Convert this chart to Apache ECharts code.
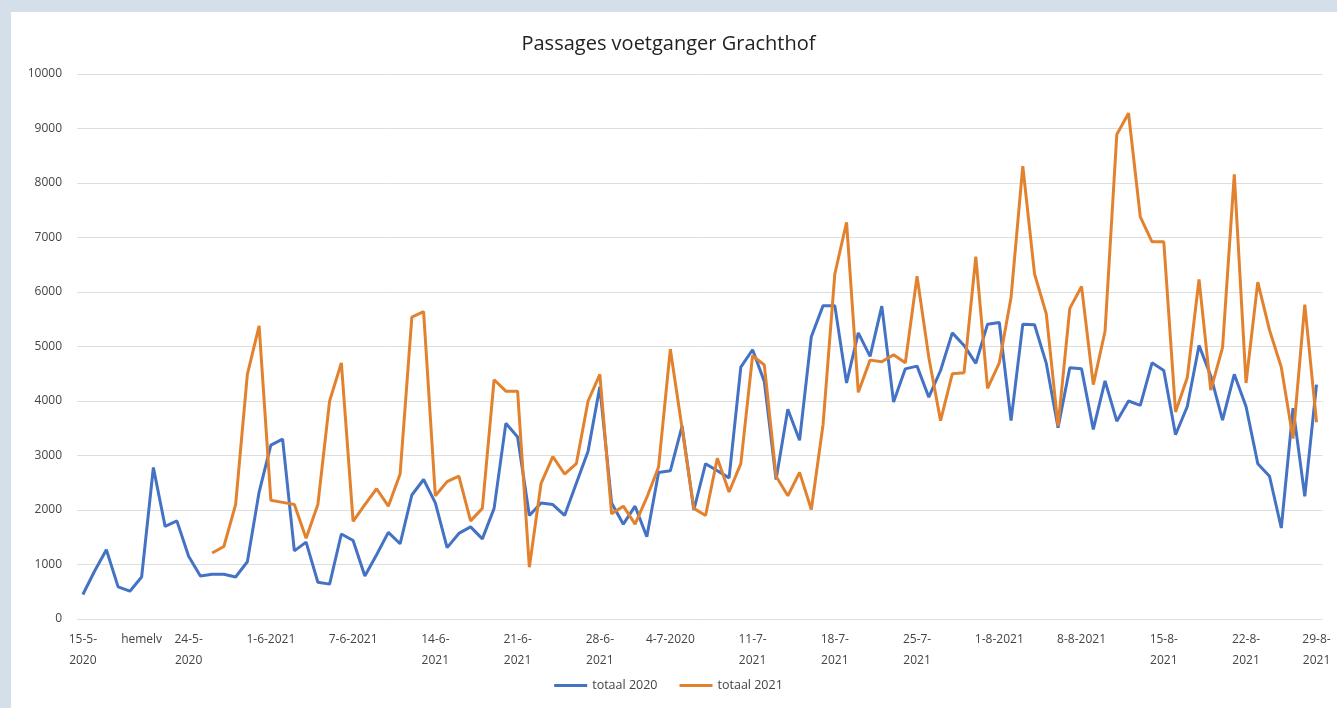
<!DOCTYPE html>
<html>
<head>
<meta charset="utf-8">
<script src="https://cdn.jsdelivr.net/npm/echarts@6/dist/echarts.min.js"></script>
<style>
  html, body { margin: 0; padding: 0; background: #d5dfe9; }
  #chart { width: 1337px; height: 708px; }
</style>
</head>
<body>
<div id="chart"></div>
<script>
// Tick labels: [category index, label text]
const tickLabels = [
  [0, '15-5-\n2020'], [5, 'hemelv'], [9, '24-5-\n2020'], [16, '1-6-2021'],
  [23, '7-6-2021'], [30, '14-6-\n2021'], [37, '21-6-\n2021'], [44, '28-6-\n2021'],
  [50, '4-7-2020'], [57, '11-7-\n2021'], [64, '18-7-\n2021'], [71, '25-7-\n2021'],
  [78, '1-8-2021'], [85, '8-8-2021'], [92, '15-8-\n2021'], [99, '22-8-\n2021'],
  [105, '29-8-\n2021']
];
const categoryCount = 106;

const totaal2020 = [
  450, 880, 1270, 590, 510, 770, 2780, 1700, 1800, 1150,
  790, 820, 820, 770, 1050, 2330, 3190, 3300, 1250, 1410,
  675, 640, 1560, 1440, 790, 1180, 1590, 1380, 2275, 2560,
  2130, 1310, 1570, 1690, 1470, 2030, 3590, 3340, 1900, 2130,
  2100, 1900, 2490, 3080, 4260, 2130, 1740, 2070, 1510, 2690,
  2720, 3540, 2000, 2850, 2720, 2590, 4620, 4940, 4360, 2560,
  3850, 3280, 5180, 5750, 5750, 4330, 5250, 4820, 5740, 3980,
  4590, 4640, 4070, 4560, 5250, 5020, 4690, 5410, 5440, 3640,
  5410, 5400, 4690, 3510, 4610, 4590, 3480, 4370, 3630, 4000,
  3920, 4700, 4560, 3380, 3900, 5020, 4460, 3650, 4490, 3900,
  2850, 2620, 1670, 3870, 2250, 4300
];

const totaal2021 = [
  null, null, null, null, null, null, null, null, null, null,
  null, 1210, 1330, 2100, 4490, 5380, 2180, 2140, 2100, 1480,
  2100, 4000, 4700, 1790, 2100, 2390, 2070, 2660, 5540, 5640,
  2260, 2520, 2620, 1800, 2030, 4390, 4180, 4180, 950, 2490,
  2980, 2660, 2850, 4000, 4490, 1930, 2070, 1740, 2230, 2790,
  4950, 3500, 2030, 1900, 2950, 2330, 2850, 4830, 4660, 2620,
  2260, 2690, 2010, 3570, 6330, 7280, 4160, 4750, 4720, 4850,
  4700, 6290, 4800, 3640, 4500, 4520, 6650, 4230, 4700, 5900,
  8310, 6330, 5600, 3540, 5700, 6100, 4300, 5280, 8890, 9280,
  7380, 6920, 6920, 3800, 4430, 6230, 4200, 4980, 8160, 4330,
  6180, 5300, 4620, 3310, 5770, 3610
];

const categories = new Array(categoryCount).fill('');
tickLabels.forEach(([i, t]) => { categories[i] = t; });

const font = '"Open Sans", sans-serif';
const chart = echarts.init(document.getElementById('chart'));
chart.setOption({
  backgroundColor: 'transparent',
  animation: false,
  graphic: [{
    type: 'rect', z: -10, silent: true,
    shape: { x: 11, y: 12, width: 1340, height: 710 },
    style: { fill: '#ffffff' }
  }],
  title: {
    text: 'Passages voetganger Grachthof',
    left: 'center', top: 29,
    textStyle: { fontFamily: font, fontSize: 20, fontWeight: 'normal', color: '#222' }
  },
  legend: {
    bottom: 11, left: 'center',
    icon: 'rect', itemWidth: 33, itemHeight: 3, itemGap: 22,
    textStyle: { fontFamily: font, fontSize: 12.5, color: '#444' },
    data: ['totaal 2020', 'totaal 2021']
  },
  grid: { left: 77, right: 14.6, top: 74, bottom: 89, containLabel: false },
  xAxis: {
    type: 'category',
    data: categories,
    boundaryGap: true,
    axisLine: { show: false },
    axisTick: { show: false },
    axisLabel: {
      interval: (idx, val) => val !== '',
      fontFamily: font, fontSize: 12, color: '#444', lineHeight: 21, margin: 10
    }
  },
  yAxis: {
    type: 'value', min: 0, max: 10000, interval: 1000,
    axisLine: { show: false },
    axisTick: { show: false },
    splitLine: { lineStyle: { color: '#dedede', width: 1 } },
    axisLabel: {
      fontFamily: font, fontSize: 12, color: '#444', margin: 15,
      formatter: (v) => String(v)
    }
  },
  series: [
    {
      name: 'totaal 2020', type: 'line', data: totaal2020,
      symbol: 'none', lineStyle: { width: 3, color: '#4472C4' }, itemStyle: { color: '#4472C4' }
    },
    {
      name: 'totaal 2021', type: 'line', data: totaal2021,
      symbol: 'none', lineStyle: { width: 3, color: '#E2822F' }, itemStyle: { color: '#E2822F' }
    }
  ]
});
</script>
</body>
</html>
